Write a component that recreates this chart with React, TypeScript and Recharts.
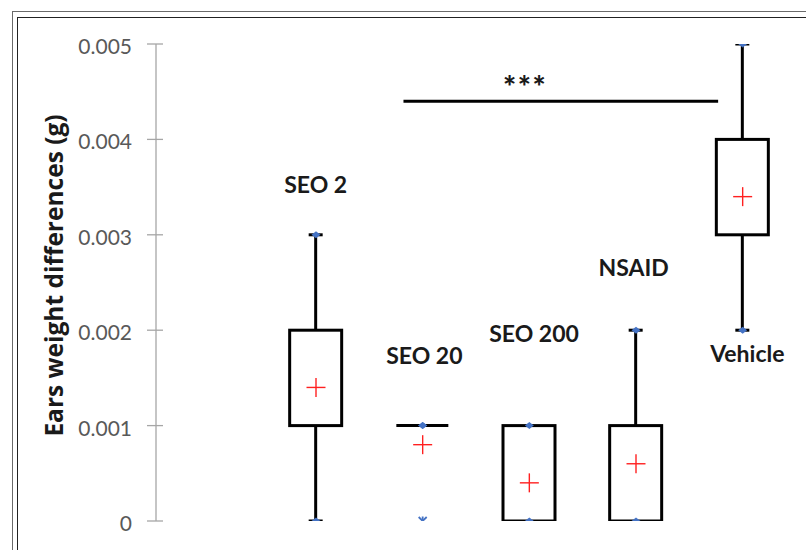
import React from "react";
import { ComposedChart, Bar, Scatter, XAxis, YAxis, ReferenceLine, ReferenceDot, Label } from "recharts";

// box plot summary per treatment group
const groups = ["SEO 2", "SEO 20", "SEO 200", "NSAID", "Vehicle"];
const whiskerLow = [0, 0.001, 0, 0, 0.002];
const quartile1 = [0.001, 0.001, 0, 0, 0.003];
const quartile3 = [0.002, 0.001, 0.001, 0.001, 0.004];
const whiskerHigh = [0.003, 0.001, 0.001, 0.002, 0.005];
const means = [0.0014, 0.0008, 0.0004, 0.0006, 0.0034];
const outliers: (number | null)[] = [null, 0, null, null, null];
const yTicks = [0, 0.001, 0.002, 0.003, 0.004, 0.005];

const Y_MIN = 0;
const Y_MAX = 0.005;
const TICK_SIZE = 8;
const TICK_MARGIN = 16;
const FONT = "Lato, 'Open Sans', sans-serif";

const data = groups.map((name, i) => ({
  name,
  slot: i + 1.5,
  low: whiskerLow[i],
  q1: quartile1[i],
  q3: quartile3[i],
  high: whiskerHigh[i],
  mean: means[i],
  outlier: outliers[i],
  span: [Y_MIN, Y_MAX],
}));

// hand-placed group labels (like the moved data labels of the original)
const labelNudge: Record<string, { dx: number; dy: number; below?: boolean }> = {
  "SEO 2": { dx: 0, dy: -50 },
  "SEO 20": { dx: 2, dy: -70 },
  "SEO 200": { dx: 5, dy: -92 },
  NSAID: { dx: -2, dy: -62 },
  Vehicle: { dx: 5, dy: 24, below: true },
};

function BoxShape(props: any) {
  const { x, y, width, height, payload } = props;
  const toY = (v: number) => y + (height * (Y_MAX - v)) / (Y_MAX - Y_MIN);
  const cx = x + width / 2;
  const yHi = toY(payload.high);
  const yQ3 = toY(payload.q3);
  const yQ1 = toY(payload.q1);
  const yLo = toY(payload.low);
  const nudge = labelNudge[payload.name];
  const labelY = (nudge.below ? yLo : yHi) + nudge.dy;
  return (
    <g>
      {yHi < yQ3 - 0.5 && <line x1={cx} x2={cx} y1={yHi} y2={yQ3} stroke="#000" strokeWidth={3} />}
      {yLo > yQ1 + 0.5 && <line x1={cx} x2={cx} y1={yQ1} y2={yLo} stroke="#000" strokeWidth={3} />}
      {yHi < yQ3 - 0.5 && <line x1={cx - 7} x2={cx + 7} y1={yHi} y2={yHi} stroke="#000" strokeWidth={3} />}
      {yLo > yQ1 + 0.5 && <line x1={cx - 7} x2={cx + 7} y1={yLo} y2={yLo} stroke="#000" strokeWidth={3} />}
      {yQ1 - yQ3 > 0.5 ? (
        <rect x={x} y={yQ3} width={width} height={yQ1 - yQ3} fill="#fff" stroke="#000" strokeWidth={3} />
      ) : (
        <line x1={x} x2={x + width} y1={yQ3} y2={yQ3} stroke="#000" strokeWidth={3} />
      )}
      <text x={cx + nudge.dx} y={labelY + 8} textAnchor="middle" fontFamily={FONT} fontWeight={700} fontSize={23} fill="#1a1a1a">
        {payload.name}
      </text>
    </g>
  );
}

function Diamond(props: any) {
  const { cx, cy } = props;
  return <polygon points={`${cx - 4.5},${cy} ${cx},${cy - 3.5} ${cx + 4.5},${cy} ${cx},${cy + 3.5}`} fill="#4472C4" />;
}

function MeanPlus(props: any) {
  const { cx, cy } = props;
  return (
    <g stroke="#FF2020" strokeWidth={1.4}>
      <line x1={cx - 9.5} x2={cx + 9.5} y1={cy} y2={cy} />
      <line x1={cx} x2={cx} y1={cy - 9.5} y2={cy + 9.5} />
    </g>
  );
}

function OutlierStar(props: any) {
  const { cx, cy, payload } = props;
  if (payload.outlier == null) return <g />;
  return (
    <g stroke="#4472C4" strokeWidth={1.8}>
      <line x1={cx - 4} x2={cx + 4} y1={cy - 4} y2={cy + 4} />
      <line x1={cx - 4} x2={cx + 4} y1={cy + 4} y2={cy - 4} />
      <line x1={cx} x2={cx} y1={cy - 4.5} y2={cy + 4.5} />
    </g>
  );
}

function YTick(props: any) {
  const { x, y, payload } = props;
  const axisX = x + TICK_SIZE + TICK_MARGIN;
  return (
    <g>
      <line x1={axisX - 9} x2={axisX + 7} y1={y} y2={y} stroke="#a6a6a6" strokeWidth={1.3} />
      <text x={x} y={y} dy={10} textAnchor="end" fontFamily={FONT} fontSize={21} fill="#595959">
        {String(payload.value)}
      </text>
    </g>
  );
}

function YTitle(props: any) {
  const { viewBox } = props;
  const cx = viewBox.x + 53;
  const cy = viewBox.y + viewBox.height / 2 - 7;
  return (
    <text x={cx} y={cy} transform={`rotate(-90, ${cx}, ${cy})`} textAnchor="middle" dominantBaseline="central" fontFamily="'Open Sans', sans-serif" fontWeight={700} fontSize={24.5} fill="#1a1a1a">
      Ears weight differences (g)
    </text>
  );
}

export default function App() {
  return (
    <div style={{ position: "fixed", left: 0, top: 0, width: 806, height: 550, overflow: "hidden", background: "#fff" }}>
      <div style={{ position: "absolute", left: 12, top: 11, width: 900, height: 700, border: "1px solid #6a6a6a" }} />
      <div style={{ position: "absolute", left: 17, top: 17, width: 900, height: 700, border: "1px solid #222" }} />
      <div style={{ position: "absolute", left: 0, top: 0 }}>
        <ComposedChart width={806} height={550} data={data} margin={{ top: 44, right: 10, bottom: 29, left: 0 }}>
          <XAxis xAxisId="cat" dataKey="name" type="category" hide padding={{ left: 106.67, right: 0 }} />
          <XAxis xAxisId="n" dataKey="slot" type="number" domain={[0, 6]} hide allowDataOverflow />
          <YAxis
            width={156}
            domain={[Y_MIN, Y_MAX]}
            ticks={yTicks}
            interval={0}
            axisLine={{ stroke: "#a6a6a6", strokeWidth: 1.3 }}
            tickLine={false}
            tickSize={TICK_SIZE}
            tickMargin={TICK_MARGIN}
            tick={<YTick />}
            allowDataOverflow
          >
            <Label content={<YTitle />} />
          </YAxis>
          <Bar xAxisId="cat" dataKey="span" barSize={52} shape={<BoxShape />} isAnimationActive={false} />
          <Scatter xAxisId="cat" dataKey="high" shape={<Diamond />} isAnimationActive={false} />
          <Scatter xAxisId="cat" dataKey="low" shape={<Diamond />} isAnimationActive={false} />
          <Scatter xAxisId="cat" dataKey="mean" shape={<MeanPlus />} isAnimationActive={false} />
          <Scatter xAxisId="cat" dataKey="outlier" shape={<OutlierStar />} isAnimationActive={false} />
          <ReferenceLine
            xAxisId="n"
            segment={[{ x: 2.32, y: 0.0044 }, { x: 5.27, y: 0.0044 }]}
            stroke="#000"
            strokeWidth={3}
            ifOverflow="visible"
          />
          <ReferenceDot
            xAxisId="n"
            x={3.46}
            y={0.00465}
            r={0}
            stroke="none"
            ifOverflow="visible"
            label={{ value: "***", position: "center", fill: "#1a1a1a", fontSize: 31, fontWeight: 900, fontFamily: FONT, letterSpacing: 1.5, dy: 10 }}
          />
        </ComposedChart>
      </div>
    </div>
  );
}
